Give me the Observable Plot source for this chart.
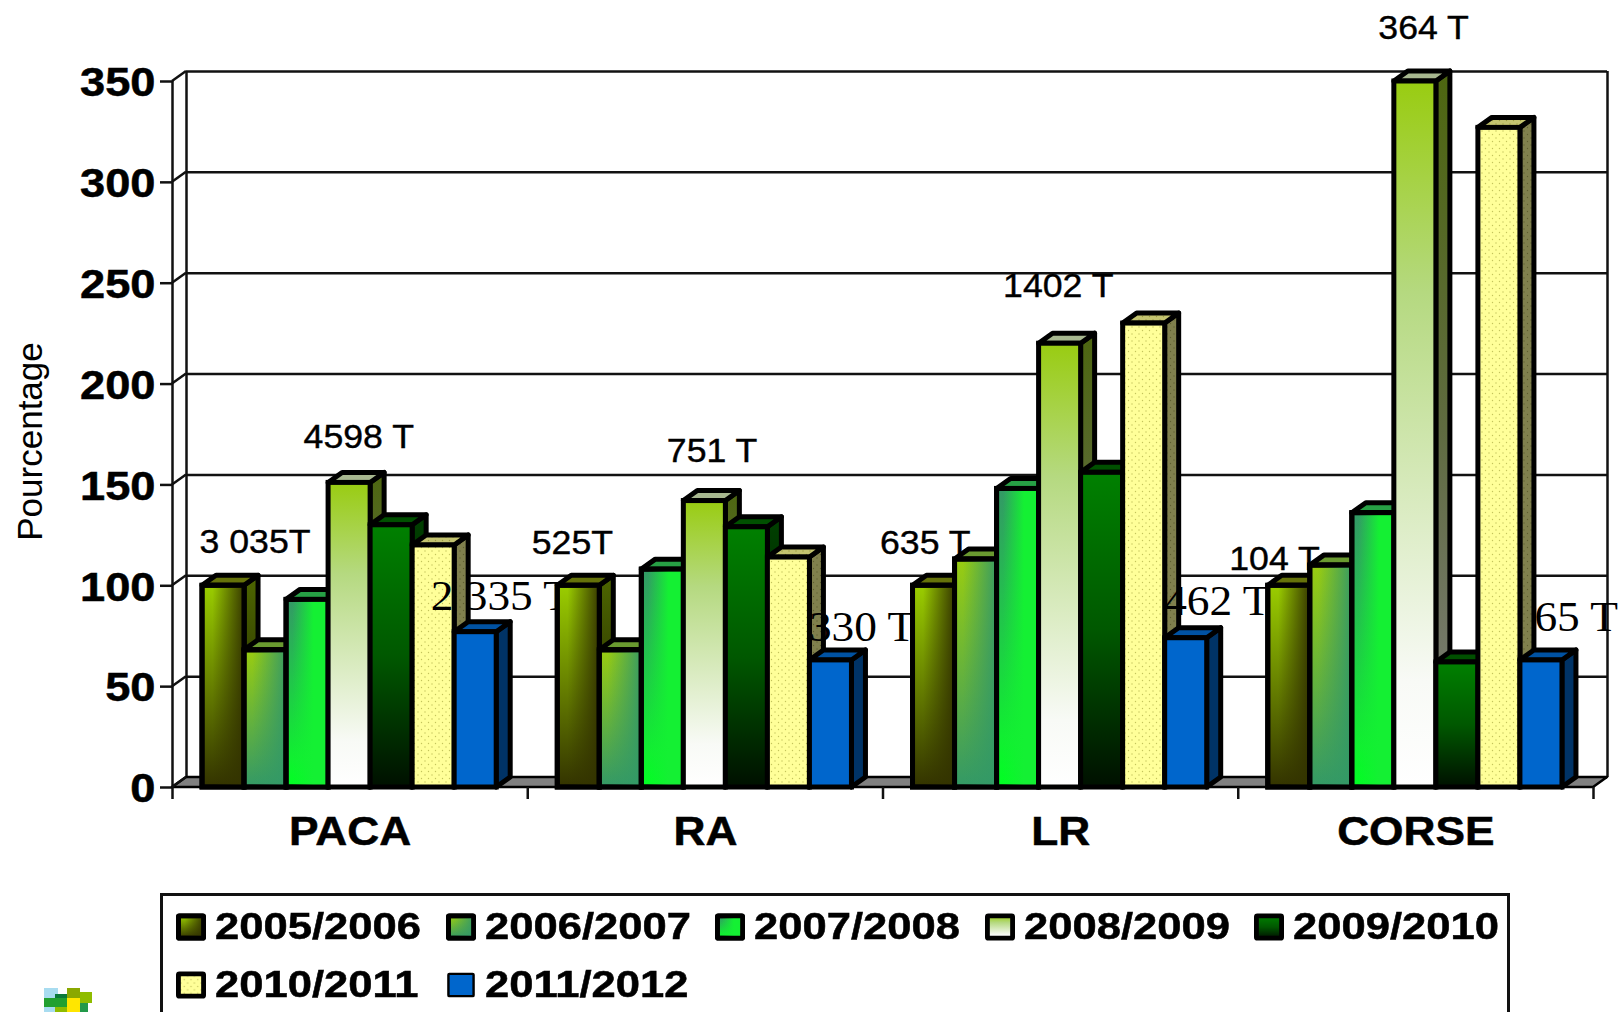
<!DOCTYPE html>
<html lang="fr">
<head>
<meta charset="utf-8">
<script src="https://cdn.jsdelivr.net/npm/d3@7"></script>
<script src="https://cdn.jsdelivr.net/npm/@observablehq/plot@0.6"></script>
<style>
html,body{margin:0;padding:0;background:#fff;overflow:hidden;width:1623px;height:1012px}
#chart{position:absolute;left:0;top:0}
#legend{position:absolute;left:160px;top:893px;width:1350px;height:140px;border:3px solid #111;
  display:grid;grid-template-columns:repeat(5,269.5px);grid-auto-rows:58px;padding:16px 0 0 13px;box-sizing:border-box;
  font:bold 36px "Liberation Sans",Arial,sans-serif;color:#000}
#legend .item{display:flex;align-items:center;height:30px}
#legend svg{flex:none;width:30px;height:28px;margin-right:9px;overflow:visible}
#legend span{display:inline-block;transform:scale(1.21,1.02);transform-origin:left center;white-space:nowrap;-webkit-text-stroke:.5px #000}
#logo{position:absolute;left:44px;top:988px;filter:blur(.5px)}
</style>
</head>
<body>
<svg width="0" height="0" style="position:absolute">
<defs>
  <linearGradient id="v0" x1="0" y1="0" x2="0" y2="1"><stop offset="0" stop-color="#9acd00"/><stop offset="1" stop-color="#333300"/></linearGradient>
  <linearGradient id="h0" x1="0" y1="0" x2="1" y2="0"><stop offset=".25" stop-color="#333300" stop-opacity="0"/><stop offset="1" stop-color="#333300" stop-opacity=".95"/></linearGradient>
  <linearGradient id="v1" x1="0" y1="0" x2="0" y2="1"><stop offset="0" stop-color="#99cc11"/><stop offset="1" stop-color="#339966"/></linearGradient>
  <linearGradient id="h1" x1="0" y1="0" x2="1" y2="0"><stop offset=".2" stop-color="#339966" stop-opacity="0"/><stop offset="1" stop-color="#339966" stop-opacity=".95"/></linearGradient>
  <linearGradient id="v2" x1="0" y1="0" x2="0" y2="1"><stop offset="0" stop-color="#339966"/><stop offset=".85" stop-color="#10f030"/><stop offset="1" stop-color="#00ff22"/></linearGradient>
  <linearGradient id="h2" x1="0" y1="0" x2="1" y2="0"><stop offset=".15" stop-color="#14f033" stop-opacity="0"/><stop offset=".65" stop-color="#14f033" stop-opacity="1"/></linearGradient>
  <linearGradient id="v3" x1="0" y1="0" x2="0" y2="1"><stop offset="0" stop-color="#99cc11"/><stop offset=".3" stop-color="#b5d980"/><stop offset=".85" stop-color="#f8faf6"/><stop offset="1" stop-color="#ffffff"/></linearGradient>
  <linearGradient id="v4" x1="0" y1="0" x2="0" y2="1"><stop offset="0" stop-color="#008000"/><stop offset=".5" stop-color="#005800"/><stop offset="1" stop-color="#001000"/></linearGradient>
  <pattern id="p5" patternUnits="userSpaceOnUse" width="7" height="7"><rect width="7" height="7" fill="#ffff99"/><circle cx="1.5" cy="1.5" r=".7" fill="#c4c45c"/><circle cx="5" cy="5" r=".7" fill="#c4c45c"/></pattern>
  <pattern id="p5s" patternUnits="userSpaceOnUse" width="7" height="7"><rect width="7" height="7" fill="#80804d"/><circle cx="1.5" cy="1.5" r=".7" fill="#5e5e30"/><circle cx="5" cy="5" r=".7" fill="#5e5e30"/></pattern>
  <pattern id="p5t" patternUnits="userSpaceOnUse" width="7" height="7"><rect width="7" height="7" fill="#c4c470"/><circle cx="1.5" cy="1.5" r=".7" fill="#9c9c40"/><circle cx="5" cy="5" r=".7" fill="#9c9c40"/></pattern>
  <linearGradient id="s0" x1="0" y1="0" x2="0" y2="1"><stop offset="0" stop-color="#4d6600"/><stop offset="1" stop-color="#1a1a00"/></linearGradient>
  <linearGradient id="s1" x1="0" y1="0" x2="0" y2="1"><stop offset="0" stop-color="#4d6600"/><stop offset="1" stop-color="#1a4d33"/></linearGradient>
  <linearGradient id="s2" x1="0" y1="0" x2="0" y2="1"><stop offset="0" stop-color="#1a4d33"/><stop offset="1" stop-color="#008000"/></linearGradient>
  <linearGradient id="s3" x1="0" y1="0" x2="0" y2="1"><stop offset="0" stop-color="#4d6610"/><stop offset=".5" stop-color="#5f6b40"/><stop offset="1" stop-color="#808080"/></linearGradient>
  <linearGradient id="s4" x1="0" y1="0" x2="0" y2="1"><stop offset="0" stop-color="#004000"/><stop offset="1" stop-color="#000800"/></linearGradient>
</defs>
</svg>
<div id="chart"></div>
<div id="legend"></div>
<svg id="logo" width="48" height="24" viewBox="0 0 48 24">
  <rect x="0" y="0" width="14" height="24" fill="#a8dcf0"/>
  <rect x="11" y="6" width="12" height="5" fill="#0a7a3a"/>
  <rect x="23" y="0" width="13" height="11" fill="#8aa800"/>
  <rect x="36" y="4" width="12" height="11" fill="#8fbc00"/>
  <rect x="0" y="10" width="23" height="9" fill="#22a030"/>
  <rect x="11" y="19" width="12" height="5" fill="#8fbc00"/>
  <rect x="23" y="10" width="13" height="14" fill="#ffe600"/>
  <rect x="36" y="15" width="8" height="9" fill="#22994a"/>
</svg>
<script>
const categories = ["PACA", "RA", "LR", "CORSE"];
const seasons = ["2005/2006", "2006/2007", "2007/2008", "2008/2009", "2009/2010", "2010/2011", "2011/2012"];
const season0506 = [100, 100, 100, 100];
const season0607 = [68, 68, 113, 110];
const season0708 = [93, 108, 148, 136];
const season0809 = [151, 142, 220, 350];
const season0910 = [130, 129, 156, 62];
const season1011 = [120, 114, 230, 327];
const season1112 = [77, 63, 74, 63];
const yTicks = [0, 50, 100, 150, 200, 250, 300, 350];
const labelsFirst = ["3 035T", "525T", "635 T", "104 T"];
const labelsPeak = ["4598 T", "751 T", "1402 T", "364 T"];
const labelsLast = ["2 335 T", "330 T", "462 T", "65 T"];

const seriesValues = [season0506, season0607, season0708, season0809, season0910, season1011, season1112];

// styling
const DX = 14, DY = 10, SW = 5;
const front = ["url(#v0)", "url(#v1)", "url(#v2)", "url(#v3)", "url(#v4)", "url(#p5)", "#0066cc"];
const over = ["url(#h0)", "url(#h1)", "url(#h2)", null, null, null, null];
const side = ["url(#s0)", "url(#s1)", "url(#s2)", "url(#s3)", "url(#s4)", "url(#p5s)", "#003366"];
const topF = ["#66730a", "#6a9a30", "#27a045", "#a8b890", "#005000", "url(#p5t)", "#0052a3"];
const barW = 0.1183, groupPad = 0.0845;
const x1Of = (c, s) => c + groupPad + s * barW;
const x2Of = (c, s) => x1Of(c, s) + barW;
// label placement relative to the bar it belongs to [dx, dy]
const offFirst = [[-24, -33], [-47, -32], [-54, -32], [-60, -16]];
const offPeak = [[-46, -35], [-38, -39], [-57, -47], [-37, -43]];
const offLast = [[-45, -22], [-22, -19], [-22, -23], [-7, -29]];

const NS = "http://www.w3.org/2000/svg";
function poly(parent, pts, fill, sw, stroke = "#000") {
  const p = document.createElementNS(NS, "polygon");
  p.setAttribute("points", pts.map(q => q.join(",")).join(" "));
  p.setAttribute("fill", fill);
  p.setAttribute("stroke", stroke);
  p.setAttribute("stroke-width", sw);
  p.setAttribute("stroke-linejoin", "round");
  parent.appendChild(p);
}
// back floor and slanted left wall links, placed by the plot's scales
function walls(index, { x, y }) {
  const g = document.createElementNS(NS, "g");
  const x0 = x(0), x4 = x(4), y0 = y(0);
  poly(g, [[x0, y0], [x4, y0], [x4 + DX, y0 - DY], [x0 + DX, y0 - DY]], "#808080", 2.5);
  for (const t of yTicks) {
    const l = document.createElementNS(NS, "line");
    l.setAttribute("x1", x0); l.setAttribute("y1", y(t));
    l.setAttribute("x2", x0 + DX); l.setAttribute("y2", y(t) - DY);
    l.setAttribute("stroke", "#111"); l.setAttribute("stroke-width", 2.5);
    g.appendChild(l);
  }
  return g;
}
function faces(c, s) {
  return (index, { x, y }) => {
    const g = document.createElementNS(NS, "g");
    const a = x(x1Of(c, s)), b = x(x2Of(c, s));
    const t = y(seriesValues[s][c]), o = y(0);
    poly(g, [[b, t], [b + DX, t - DY], [b + DX, o - DY], [b, o]], side[s], SW);
    poly(g, [[a, t], [a + DX, t - DY], [b + DX, t - DY], [b, t]], topF[s], SW);
    return g;
  };
}
const txt = (label, c, s, off, opts) => Plot.text([label], {
  x: () => (x1Of(c, s) + x2Of(c, s)) / 2,
  y: () => seriesValues[s][c],
  text: d => d,
  textAnchor: "start",
  lineAnchor: "bottom",
  dx: off[0], dy: off[1],
  fill: "#000",
  ...opts
});

const marks = [
  Plot.ruleY(yTicks, { x1: () => 0, x2: () => 4, dx: DX, dy: -DY, stroke: "#111", strokeWidth: 2.5, strokeOpacity: 1 }),
  Plot.ruleX([0, 4], { y1: () => 0, y2: () => 350, dx: DX, dy: -DY, stroke: "#111", strokeWidth: 2.5 }),
  Plot.ruleX([0], { y1: () => 0, y2: () => 350, stroke: "#111", strokeWidth: 2.5 }),
  walls,
  Plot.axisY({ ticks: yTicks, tickSize: 12, tickFormat: () => "", stroke: "#111", strokeWidth: 2.5, label: null }),
  Plot.axisY({ ticks: yTicks, tickSize: 0, tickPadding: 17, dy: 2, fontSize: 40, fontWeight: "bold", fill: "#000", label: null, tickFormat: d => d, className: "wideTick" }),
  Plot.axisX({ ticks: [0, 1, 2, 3, 4], tickSize: 12, tickFormat: () => "", stroke: "#111", strokeWidth: 2.5, label: null }),
  Plot.axisX({ ticks: [0.5, 1.5, 2.5, 3.5], tickSize: 0, tickPadding: 28, fontSize: 41, fontWeight: "bold", fill: "#000", label: null, tickFormat: d => categories[Math.floor(d)], className: "wideCat" }),
  Plot.text(["Pourcentage"], { frameAnchor: "left", textAnchor: "middle", rotate: -90, dx: -142, dy: 7, text: d => d, fontSize: 35, fill: "#000" })
];
categories.forEach((cat, c) => {
  seasons.forEach((season, s) => {
    const row = [{ cat, season, value: seriesValues[s][c] }];
    marks.push(faces(c, s));
    const base = { x1: () => x1Of(c, s), x2: () => x2Of(c, s), y1: () => 0, y2: d => d.value, stroke: "#000", strokeWidth: SW };
    marks.push(Plot.rect(row, { ...base, fill: front[s] }));
    if (over[s]) marks.push(Plot.rect(row, { ...base, fill: over[s] }));
  });
  const sans = { fontFamily: "Liberation Sans", fontSize: 33, className: "wideSans" };
  const serif = { fontFamily: "Liberation Serif", fontSize: 42, className: "wideSerif" };
  marks.push(txt(labelsFirst[c], c, 0, offFirst[c], sans));
  marks.push(txt(labelsPeak[c], c, 3, offPeak[c], sans));
  marks.push(txt(labelsLast[c], c, 6, offLast[c], serif));
});

const chart = Plot.plot({
  width: 1623, height: 880,
  marginLeft: 172, marginRight: 30, marginTop: 81, marginBottom: 93,
  x: { domain: [0, 4], label: null },
  y: { domain: [0, 350], label: null },
  style: { fontFamily: "Liberation Sans", background: "transparent", color: "#000", overflow: "visible" },
  marks
});
document.getElementById("chart").appendChild(chart);

// the reference's text is drawn slightly wider than the font's natural set width
function widen(cls, factor, strokeW) {
  chart.querySelectorAll(`.${cls} text`).forEach(t => {
    t.setAttribute("textLength", t.getComputedTextLength() * factor);
    t.setAttribute("lengthAdjust", "spacingAndGlyphs");
    if (strokeW) { t.setAttribute("stroke", "#000"); t.setAttribute("stroke-width", strokeW); }
  });
}
widen("wideTick", 1.13, 0.5);
widen("wideCat", 1.08, 0.5);
widen("wideSans", 1.08, 0.4);
widen("wideSerif", 1.08, 0);

const legend = document.getElementById("legend");
seasons.forEach((season, s) => {
  const it = document.createElement("div");
  it.className = "item";
  const sw = s === 6 ? 2.5 : 5;
  const ov = over[s] ? `<rect x="2.5" y="2.5" width="26" height="23" fill="${over[s]}" stroke="#000" stroke-width="${sw}" rx="1"/>` : "";
  it.innerHTML = `<svg viewBox="0 0 31 28"><rect x="2.5" y="2.5" width="26" height="23" fill="${front[s]}" stroke="#000" stroke-width="${sw}" rx="1"/>${ov}</svg><span>${season}</span>`;
  legend.appendChild(it);
});
</script>
</body>
</html>
